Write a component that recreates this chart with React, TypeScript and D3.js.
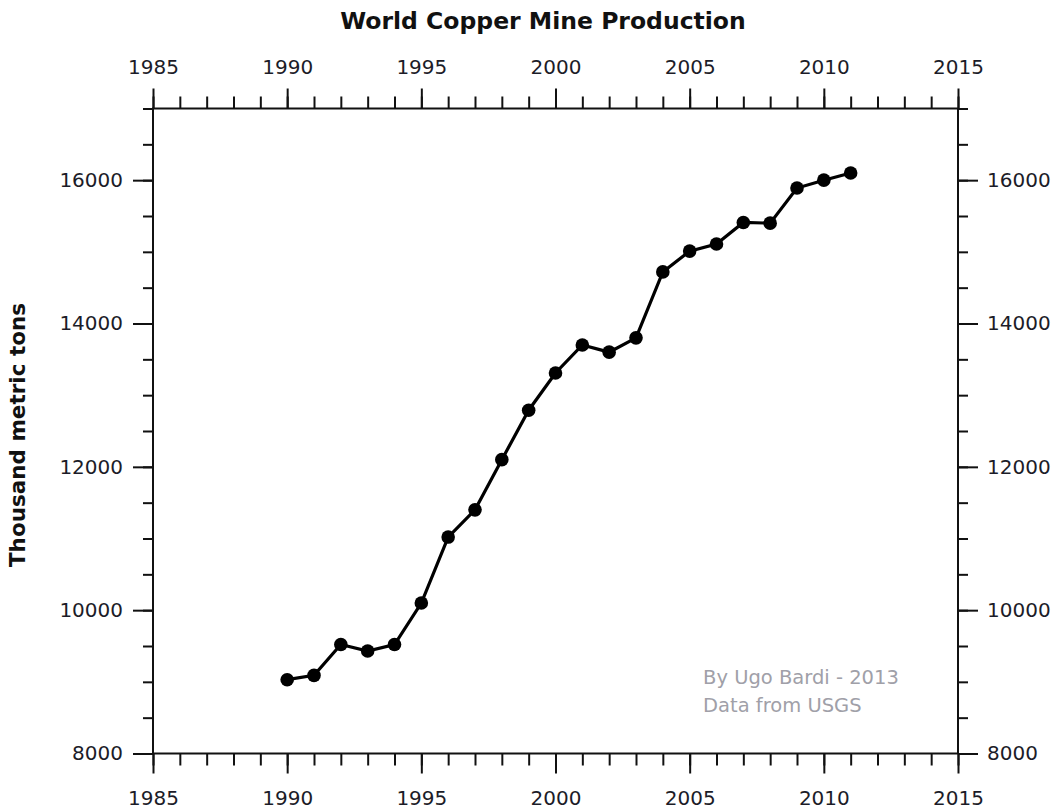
import { useEffect, useRef } from "react";
import * as d3 from "d3";

const years = [
  1990, 1991, 1992, 1993, 1994, 1995, 1996, 1997, 1998, 1999, 2000, 2001,
  2002, 2003, 2004, 2005, 2006, 2007, 2008, 2009, 2010, 2011,
];
const production = [
  9030, 9090, 9520, 9430, 9520, 10100, 11020, 11400, 12100, 12790, 13310,
  13700, 13600, 13800, 14720, 15010, 15110, 15410, 15400, 15890, 16000, 16100,
];
const xMajorTicks = [1985, 1990, 1995, 2000, 2005, 2010, 2015];
const yMajorTicks = [8000, 10000, 12000, 14000, 16000];
const creditLines = ["By Ugo Bardi - 2013", "Data from USGS"];

export default function App() {
  const svgRef = useRef<SVGSVGElement | null>(null);

  useEffect(() => {
    if (!svgRef.current) return;
    const svg = d3.select(svgRef.current);
    svg.selectAll("*").remove();

    const width = 1062;
    const height = 812;
    const margin = { top: 108.5, right: 104, bottom: 58.5, left: 153 };
    const innerWidth = width - margin.left - margin.right;
    const innerHeight = height - margin.top - margin.bottom;
    const font = "DejaVu Sans, Verdana, sans-serif";

    const g = svg
      .append("g")
      .attr("transform", `translate(${margin.left},${margin.top})`);

    const x = d3.scaleLinear().domain([1985, 2015]).range([0, innerWidth]);
    const y = d3.scaleLinear().domain([8000, 17000]).range([innerHeight, 0]);

    const xMinor = d3.range(1985, 2016, 1);
    const yMinor = d3.range(8000, 17001, 500);

    const styleAxis = (sel: d3.Selection<SVGGElement, unknown, null, undefined>) => {
      sel.select(".domain").remove();
      sel.selectAll("line").attr("stroke", "#111").attr("stroke-width", 2);
      sel
        .selectAll("text")
        .attr("fill", "#1c1c28")
        .style("font-family", font)
        .style("font-size", "20px");
    };

    // minor ticks, no labels
    const minorX = (axis: d3.Axis<d3.NumberValue>) =>
      axis.tickValues(xMinor).tickSize(12).tickFormat(() => "");
    const minorY = (axis: d3.Axis<d3.NumberValue>) =>
      axis.tickValues(yMinor).tickSize(10).tickFormat(() => "");

    g.append("g").call(minorX(d3.axisTop(x))).call(styleAxis);
    g.append("g")
      .attr("transform", `translate(0,${innerHeight})`)
      .call(minorX(d3.axisBottom(x)))
      .call(styleAxis);
    g.append("g").call(minorY(d3.axisLeft(y))).call(styleAxis);
    g.append("g")
      .attr("transform", `translate(${innerWidth},0)`)
      .call(minorY(d3.axisRight(y)))
      .call(styleAxis);

    // major ticks + labels
    g.append("g")
      .call(
        d3.axisTop(x).tickValues(xMajorTicks).tickSize(20).tickPadding(15).tickFormat(d3.format("d")),
      )
      .call(styleAxis);
    g.append("g")
      .attr("transform", `translate(0,${innerHeight})`)
      .call(
        d3.axisBottom(x).tickValues(xMajorTicks).tickSize(20).tickPadding(17).tickFormat(d3.format("d")),
      )
      .call(styleAxis);
    g.append("g")
      .call(d3.axisLeft(y).tickValues(yMajorTicks).tickSize(20).tickPadding(10).tickFormat(d3.format("d")))
      .call(styleAxis);
    g.append("g")
      .attr("transform", `translate(${innerWidth},0)`)
      .call(d3.axisRight(y).tickValues(yMajorTicks).tickSize(20).tickPadding(9).tickFormat(d3.format("d")))
      .call(styleAxis);

    // frame
    g.append("rect")
      .attr("width", innerWidth)
      .attr("height", innerHeight)
      .attr("fill", "none")
      .attr("stroke", "#111")
      .attr("stroke-width", 2);

    const points = years.map((yr, i) => ({ year: yr, value: production[i] }));

    const line = d3
      .line<(typeof points)[0]>()
      .x((d) => x(d.year))
      .y((d) => y(d.value));

    g.append("path")
      .datum(points)
      .attr("fill", "none")
      .attr("stroke", "#000")
      .attr("stroke-width", 3.2)
      .attr("d", line);

    g.selectAll("circle.pt")
      .data(points)
      .join("circle")
      .attr("class", "pt")
      .attr("cx", (d) => x(d.year))
      .attr("cy", (d) => y(d.value))
      .attr("r", 6.8)
      .attr("fill", "#000");

    // credit
    g.append("g")
      .selectAll("text")
      .data(creditLines)
      .join("text")
      .attr("x", x(2005.5))
      .attr("y", (_d, i) => y(8970) + i * 28)
      .attr("fill", "#a0a0a8")
      .style("font-family", font)
      .style("font-size", "19.5px")
      .text((d) => d);

    // title
    svg
      .append("text")
      .attr("x", 543)
      .attr("y", 29)
      .attr("text-anchor", "middle")
      .attr("fill", "#111")
      .style("font-family", font)
      .style("font-weight", "bold")
      .style("font-size", "23.5px")
      .text("World Copper Mine Production");

    // y label
    svg
      .append("text")
      .attr("transform", `translate(25,435) rotate(-90)`)
      .attr("text-anchor", "middle")
      .attr("fill", "#111")
      .style("font-family", font)
      .style("font-weight", "bold")
      .style("font-size", "21.5px")
      .text("Thousand metric tons");
  }, []);

  return (
    <svg
      ref={svgRef}
      width={1062}
      height={812}
      style={{ position: "absolute", left: 0, top: 0, background: "#fff" }}
    />
  );
}
